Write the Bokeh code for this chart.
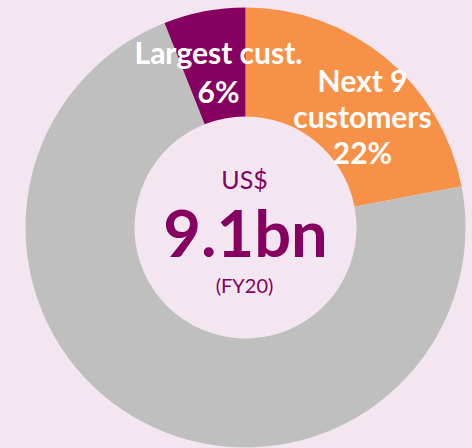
import numpy as np
from bokeh.plotting import figure
from bokeh.models import ColumnDataSource, Range1d
from bokeh.core.properties import value
from bokeh.embed import file_html
from bokeh.resources import INLINE

# ---- data ----
segments = ["Next 9 customers", "Others", "Largest cust."]
shares = [22, 72, 6]
colors = ["#F79148", "#BFBFBF", "#850060"]

label_lines = ["Largest cust.", "6%", "Next 9", "customers", "22%"]
center_lines = ["US$", "9.1bn", "(FY20)"]

BG = "#F3E6F0"
W, H = 472, 448

vals = np.array(shares, dtype=float)
frac = vals / vals.sum()
ends = np.cumsum(frac) * 2 * np.pi
starts = ends - frac * 2 * np.pi
start_ang = np.pi / 2 - starts
end_ang = np.pi / 2 - ends

p = figure(width=W, height=H, output_backend="svg", toolbar_location=None,
           x_range=Range1d(0, W), y_range=Range1d(0, H), min_border=0)
p.axis.visible = False
p.grid.visible = False
p.outline_line_color = None
p.background_fill_color = BG
p.border_fill_color = BG

cx, cy = 245, 221
src = ColumnDataSource(dict(start=start_ang, end=end_ang, color=colors, name=segments))
p.annular_wedge(x=cx, y=cy, inner_radius=111, outer_radius=220,
                start_angle="start", end_angle="end", direction="clock",
                fill_color="color", line_color=None, source=src)

font = value("Lato")
lab = ColumnDataSource(dict(
    x=[218, 218, 362, 362, 362],
    y=[397, 358, 369, 333, 297],
    t=label_lines))
p.text(x="x", y="y", text="t", source=lab, text_color="white",
       text_font=font, text_font_style="bold", text_font_size="30px",
       text_align="center", text_baseline="alphabetic")

p.text(x=[244], y=[270], text=[center_lines[0]], text_color="#850060",
       text_font=font, text_font_size="25px", text_align="center",
       text_baseline="alphabetic")
p.text(x=[245], y=[217], text=[center_lines[1]], text_color="#850060",
       text_font=font, text_font_style="bold", text_font_size="65px",
       text_align="center", text_baseline="alphabetic")
p.text(x=[244], y=[164], text=[center_lines[2]], text_color="#850060",
       text_font=font, text_font_size="20px", text_align="center",
       text_baseline="alphabetic")

html = file_html(p, INLINE)
html = html.replace("<head>", "<head><style>html,body{background:%s;}</style>" % BG, 1)
open("out.html", "w").write(html)
